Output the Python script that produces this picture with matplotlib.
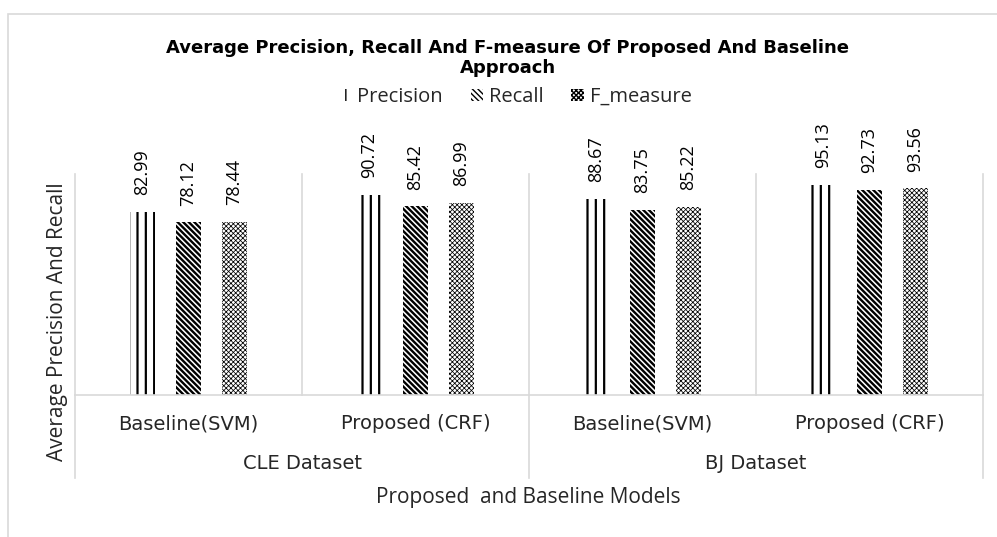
import numpy as np
import matplotlib
matplotlib.use("Agg")
import matplotlib.pyplot as plt
from matplotlib.patches import Rectangle

# scores per model, grouped by dataset
datasets = ["CLE Dataset", "BJ Dataset"]
models = ["Baseline(SVM)", "Proposed (CRF)", "Baseline(SVM)", "Proposed (CRF)"]
precision = [82.99, 90.72, 88.67, 95.13]
recall = [78.12, 85.42, 83.75, 92.73]
f_measure = [78.44, 86.99, 85.22, 93.56]

series = [("Precision", precision, "||"),
          ("Recall", recall, "\\" * 6),
          ("F_measure", f_measure, "x" * 7)]
hatch_lw = {"Precision": 1.6, "Recall": 1.7, "F_measure": 0.55}

grid_c = "#d9d9d9"
txt_c = "#262626"
body = ["Open Sans", "DejaVu Sans"]

W, H = 997, 537
fig = plt.figure(figsize=(W / 100, H / 100), dpi=100)

# chart frame
fig.patches.append(Rectangle((8 / W, -0.1), 1.2, 1 - 14 / H + 0.1, transform=fig.transFigure,
                             fill=False, edgecolor=grid_c, linewidth=1.2))

ax = fig.add_axes([75 / W, 1 - 395 / H, (983 - 75) / W, (395 - 174) / H])
ax.set_xlim(-0.5, 3.5)
ax.set_ylim(0, 100)

x = np.arange(len(models))
width = 0.106
step = 0.2026
for i, (name, vals, hatch) in enumerate(series):
    with plt.rc_context({"hatch.linewidth": hatch_lw[name]}):
        ax.bar(x + (i - 1) * step, vals, width, color="white", edgecolor="black",
               linewidth=0, hatch=hatch, label=name)
    for xi, v in zip(x + (i - 1) * step, vals):
        ax.annotate(f"{v:.2f}", (xi, v), xytext=(0, 12), textcoords="offset points",
                    rotation=90, ha="center", va="bottom", fontsize=13,
                    family=body, color="black")

for s in ["top", "right", "left"]:
    ax.spines[s].set_visible(False)
ax.spines["bottom"].set_color(grid_c)
ax.spines["bottom"].set_linewidth(1.2)
ax.set_xticks([])
ax.set_yticks([])

# category separators inside the plot and below the axis
for xs in [-0.5, 0.5, 1.5, 2.5, 3.5]:
    ax.plot([xs, xs], [0, 100], color=grid_c, lw=1.2, clip_on=False, zorder=0)
for xs in [-0.5, 1.5, 3.5]:
    ax.plot([xs, xs], [0, -37.6], color=grid_c, lw=1.2, clip_on=False, zorder=0)

for xi, m in zip(x, models):
    ax.text(xi, -12.9, m, ha="center", va="center", fontsize=14, color=txt_c,
            family="DejaVu Sans")
for gi, d in enumerate(datasets):
    ax.text(0.5 + 2 * gi, -30.8, d, ha="center", va="center", fontsize=14, color=txt_c,
            family="DejaVu Sans")

fig.text(57 / W, 1 - 322 / H, "Average Precision And Recall", rotation=90, ha="center",
         va="center", fontsize=15, family=body, color=txt_c)
fig.text(528 / W, 1 - 497 / H, "Proposed  and Baseline Models", ha="center", va="center",
         fontsize=15, family=body, color=txt_c)

fig.text(508 / W, 1 - 58 / H,
         "Average Precision, Recall And F-measure Of Proposed And Baseline\nApproach",
         ha="center", va="center", fontsize=13, fontweight="bold", family="DejaVu Sans",
         color="black", linespacing=1.2)

leg = fig.legend(loc="center", bbox_to_anchor=(515 / W, 1 - 97 / H), ncol=3, frameon=False,
                 handlelength=0.6, handleheight=0.6, handletextpad=0.3, columnspacing=1.4,
                 prop={"family": body, "size": 14.5})
for t in leg.get_texts():
    t.set_color(txt_c)

fig.savefig("out.png", dpi=100)
